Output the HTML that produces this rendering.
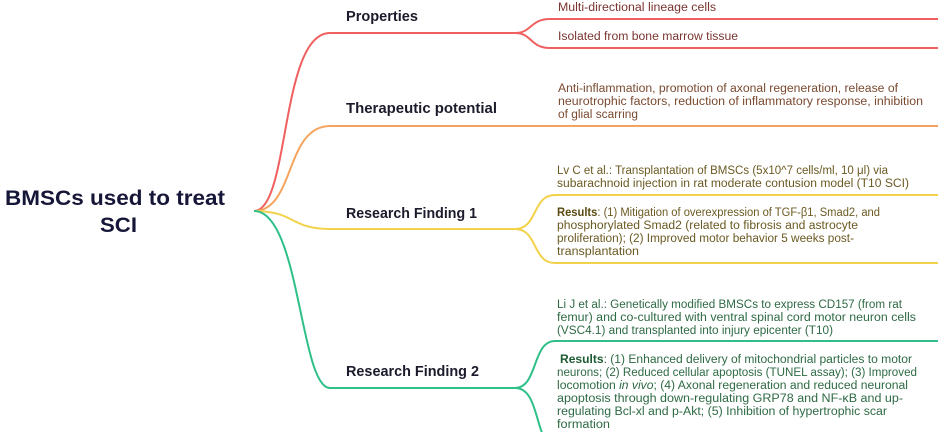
<!DOCTYPE html>
<html><head><meta charset="utf-8"><style>
html,body{margin:0;padding:0;background:#fff;}
svg{display:block;}
text{font-family:"Liberation Sans",sans-serif;}
.c{font-size:11.5px;}
.l{font-size:14.5px;font-weight:bold;fill:#1b1b2b;}
</style></head><body>
<svg width="938" height="432" viewBox="0 0 938 432" xmlns="http://www.w3.org/2000/svg">
<g fill="none" stroke-width="2">
<path d="M254 211 C290 211 280 33 330 33 L515 33" stroke="#f06060"/>
<path d="M515 33 C532 33 530 19 550 19 L938 19" stroke="#f06060"/>
<path d="M515 33 C532 33 530 48 550 48 L938 48" stroke="#f06060"/>
<path d="M254 211 C295 211 285 126 330 126 L938 126" stroke="#f4a45e"/>
<path d="M254 211 C295 211 290 229 330 229 L515 229" stroke="#f2d24a"/>
<path d="M515 229 C538 229 532 195 555 195 L938 195" stroke="#f2d24a"/>
<path d="M515 229 C538 229 532 263 555 263 L938 263" stroke="#f2d24a"/>
<path d="M254 211 C300 211 300 388 330 388 L515 388" stroke="#2ec088"/>
<path d="M515 388 C538 388 532 341 555 341 L938 341" stroke="#2ec088"/>
<path d="M515 388 C535 388 535 420 545 440" stroke="#2ec088"/>
</g>
<text x="5" y="205" textLength="220" lengthAdjust="spacingAndGlyphs" style="font-size:21px;font-weight:bold;fill:#161638">BMSCs used to treat</text>
<text x="100" y="232" textLength="37" lengthAdjust="spacingAndGlyphs" style="font-size:21px;font-weight:bold;fill:#161638">SCI</text>
<text class="l" x="346" y="21" textLength="72" lengthAdjust="spacingAndGlyphs">Properties</text>
<text class="l" x="346" y="113" textLength="151" lengthAdjust="spacingAndGlyphs">Therapeutic potential</text>
<text class="l" x="346" y="218" textLength="131" lengthAdjust="spacingAndGlyphs">Research Finding 1</text>
<text class="l" x="346" y="376" textLength="133" lengthAdjust="spacingAndGlyphs">Research Finding 2</text>
<g class="c" fill="#7a3530">
<text x="558" y="11" textLength="158" lengthAdjust="spacingAndGlyphs">Multi-directional lineage cells</text>
<text x="558" y="40" textLength="180" lengthAdjust="spacingAndGlyphs">Isolated from bone marrow tissue</text>
</g>
<g class="c" fill="#7a4a30">
<text x="558" y="92" textLength="340" lengthAdjust="spacingAndGlyphs">Anti-inflammation, promotion of axonal regeneration, release of</text>
<text x="558" y="105" textLength="365" lengthAdjust="spacingAndGlyphs">neurotrophic factors, reduction of inflammatory response, inhibition</text>
<text x="558" y="118" textLength="80" lengthAdjust="spacingAndGlyphs">of glial scarring</text>
</g>
<g class="c" fill="#6b5a22">
<text x="557" y="174" textLength="331" lengthAdjust="spacingAndGlyphs">Lv C et al.: Transplantation of BMSCs (5x10^7 cells/ml, 10 μl) via</text>
<text x="557" y="187" textLength="352" lengthAdjust="spacingAndGlyphs">subarachnoid injection in rat moderate contusion model (T10 SCI)</text>
<text x="557" y="216" textLength="323" lengthAdjust="spacingAndGlyphs"><tspan font-weight="bold" fill="#5a4a10">Results</tspan>: (1) Mitigation of overexpression of TGF-β1, Smad2, and</text>
<text x="557" y="229" textLength="301" lengthAdjust="spacingAndGlyphs">phosphorylated Smad2 (related to fibrosis and astrocyte</text>
<text x="557" y="242" textLength="297" lengthAdjust="spacingAndGlyphs">proliferation); (2) Improved motor behavior 5 weeks post-</text>
<text x="557" y="255" textLength="82" lengthAdjust="spacingAndGlyphs">transplantation</text>
</g>
<g class="c" fill="#2e6a44">
<text x="557" y="308" textLength="345" lengthAdjust="spacingAndGlyphs">Li J et al.: Genetically modified BMSCs to express CD157 (from rat</text>
<text x="557" y="321" textLength="359" lengthAdjust="spacingAndGlyphs">femur) and co-cultured with ventral spinal cord motor neuron cells</text>
<text x="557" y="334" textLength="276" lengthAdjust="spacingAndGlyphs">(VSC4.1) and transplanted into injury epicenter (T10)</text>
<text x="560" y="363" textLength="352" lengthAdjust="spacingAndGlyphs"><tspan font-weight="bold" fill="#1e5a34">Results</tspan>: (1) Enhanced delivery of mitochondrial particles to motor</text>
<text x="557" y="376" textLength="360" lengthAdjust="spacingAndGlyphs">neurons; (2) Reduced cellular apoptosis (TUNEL assay); (3) Improved</text>
<text x="557" y="389" textLength="351" lengthAdjust="spacingAndGlyphs">locomotion <tspan font-style="italic">in vivo</tspan>; (4) Axonal regeneration and reduced neuronal</text>
<text x="557" y="402" textLength="346" lengthAdjust="spacingAndGlyphs">apoptosis through down-regulating GRP78 and NF-κB and up-</text>
<text x="557" y="415" textLength="330" lengthAdjust="spacingAndGlyphs">regulating Bcl-xl and p-Akt; (5) Inhibition of hypertrophic scar</text>
<text x="557" y="428" textLength="53" lengthAdjust="spacingAndGlyphs">formation</text>
</g>
</svg>
</body></html>
